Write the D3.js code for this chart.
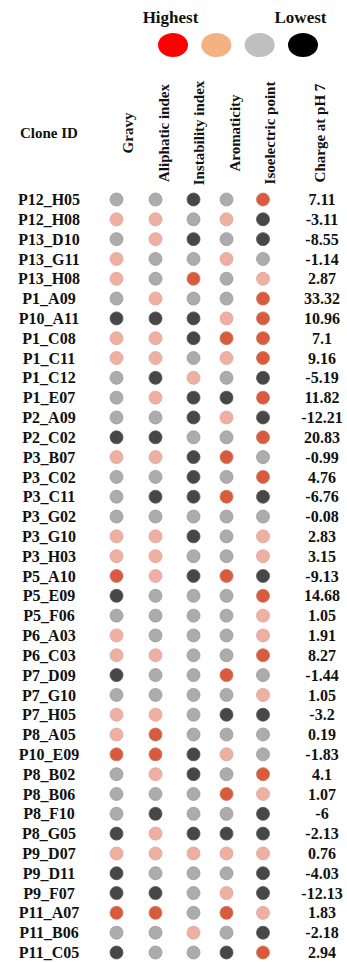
<!DOCTYPE html>
<html>
<head>
<meta charset="utf-8">
<script src="https://cdn.jsdelivr.net/npm/d3@7"></script>
<style>
  body { margin: 0; background: #fff; }
  svg text { font-family: "Liberation Serif", "Times New Roman", serif; font-weight: bold; fill: #111; }
</style>
</head>
<body>
<svg id="chart"></svg>
<script>
// levels: 3 = highest, 2 = high, 1 = low, 0 = lowest
const cloneIds = ["P12_H05","P12_H08","P13_D10","P13_G11","P13_H08","P1_A09","P10_A11","P1_C08","P1_C11","P1_C12",
  "P1_E07","P2_A09","P2_C02","P3_B07","P3_C02","P3_C11","P3_G02","P3_G10","P3_H03","P5_A10",
  "P5_E09","P5_F06","P6_A03","P6_C03","P7_D09","P7_G10","P7_H05","P8_A05","P10_E09","P8_B02",
  "P8_B06","P8_F10","P8_G05","P9_D07","P9_D11","P9_F07","P11_A07","P11_B06","P11_C05"];
const gravy       = [1,2,1,2,2,1,0,2,2,1, 1,1,0,2,1,1,1,2,2,3, 0,1,2,2,0,1,2,2,3,1, 1,1,0,2,0,0,3,1,0];
const aliphatic   = [1,2,2,1,1,2,0,2,2,0, 2,1,0,2,1,0,1,2,2,2, 1,1,1,2,1,1,2,3,3,2, 1,0,2,2,1,0,3,1,1];
const instability = [0,1,0,1,3,1,0,0,1,2, 0,0,1,0,0,0,1,0,1,0, 1,1,1,1,1,1,1,1,0,0, 1,1,0,2,1,1,1,2,1];
const aromaticity = [1,2,1,2,1,1,2,3,2,1, 0,2,1,3,1,3,1,1,1,3, 1,1,1,1,3,1,0,1,2,1, 3,1,0,2,1,2,3,1,0];
const isoelectric = [3,0,0,1,2,3,3,3,3,0, 3,0,3,1,3,0,1,2,2,0, 3,2,2,3,1,2,0,1,1,3, 2,0,0,2,0,0,2,0,3];
const charge = [7.11,-3.11,-8.55,-1.14,2.87,33.32,10.96,7.1,9.16,-5.19,
  11.82,-12.21,20.83,-0.99,4.76,-6.76,-0.08,2.83,3.15,-9.13,
  14.68,1.05,1.91,8.27,-1.44,1.05,-3.2,0.19,-1.83,4.1,
  1.07,-6,-2.13,0.76,-4.03,-12.13,1.83,-2.18,2.94];

const columns = ["Gravy","Aliphatic index","Instability index","Aromaticity","Isoelectric point"];
const columnValues = [gravy, aliphatic, instability, aromaticity, isoelectric];
const legendLevels = [3, 2, 1, 0];

const width = 347, height = 962;

const svg = d3.select("#chart")
  .attr("width", width)
  .attr("height", height);

// scales
const yScale = d3.scalePoint().domain(cloneIds).range([199.5, 952.5]);
const xCol = d3.scaleOrdinal().domain(columns).range([116.5, 155.5, 193.5, 226.5, 263]);
const xHeader = d3.scaleOrdinal().domain(columns.concat(["Charge at pH 7"]))
  .range([128, 164, 199, 235, 270, 320]);
const dotColor = d3.scaleOrdinal().domain([3,2,1,0]).range(["#d95a3c","#efb0a2","#acacac","#474747"]);
const dotStroke = d3.scaleOrdinal().domain([3,2,1,0]).range(["#c2785f","#d9a79a","#9a9a9a","#555555"]);
const legendColor = d3.scaleOrdinal().domain([3,2,1,0]).range(["#ff0000","#f4b183","#bfbfbf","#000000"]);
const xLegend = d3.scalePoint().domain(legendLevels).range([173, 303]);

// legend
svg.append("text").attr("x", 170.5).attr("y", 23).attr("text-anchor", "middle")
  .style("font-size", "17px").text("Highest");
svg.append("text").attr("x", 300.5).attr("y", 23).attr("text-anchor", "middle")
  .style("font-size", "17px").text("Lowest");
svg.selectAll("ellipse.legend")
  .data(legendLevels)
  .join("ellipse")
    .attr("class", "legend")
    .attr("cx", d => xLegend(d))
    .attr("cy", 45)
    .attr("rx", 15)
    .attr("ry", 12)
    .style("fill", d => legendColor(d));

// headers
svg.append("text").attr("x", 49).attr("y", 133).attr("dy", "0.35em").attr("text-anchor", "middle")
  .style("font-size", "15px").text("Clone ID");
svg.selectAll("text.col-header")
  .data(xHeader.domain())
  .join("text")
    .attr("class", "col-header")
    .attr("text-anchor", "middle")
    .attr("dy", "0.35em")
    .attr("transform", d => `translate(${xHeader(d)},133) rotate(-90)`)
    .style("font-size", "15px")
    .text(d => d);

// rows
const rows = cloneIds.map((id, i) => ({
  id: id,
  charge: charge[i],
  levels: columns.map((c, j) => ({col: c, level: columnValues[j][i]}))
}));

const rowG = svg.selectAll("g.row")
  .data(rows)
  .join("g")
    .attr("class", "row")
    .attr("transform", d => `translate(0,${yScale(d.id)})`);

rowG.append("text")
  .attr("x", 49).attr("dy", "0.35em").attr("text-anchor", "middle")
  .style("font-size", "16px")
  .text(d => d.id);

rowG.selectAll("circle")
  .data(d => d.levels)
  .join("circle")
    .attr("cx", d => xCol(d.col))
    .attr("cy", 0)
    .attr("r", 6.5)
    .style("fill", d => dotColor(d.level))
    .style("stroke", d => dotStroke(d.level))
    .style("stroke-width", 0.8);

rowG.append("text")
  .attr("x", 322).attr("dy", "0.35em").attr("text-anchor", "middle")
  .style("font-size", "16px")
  .text(d => d.charge);
</script>
</body>
</html>
